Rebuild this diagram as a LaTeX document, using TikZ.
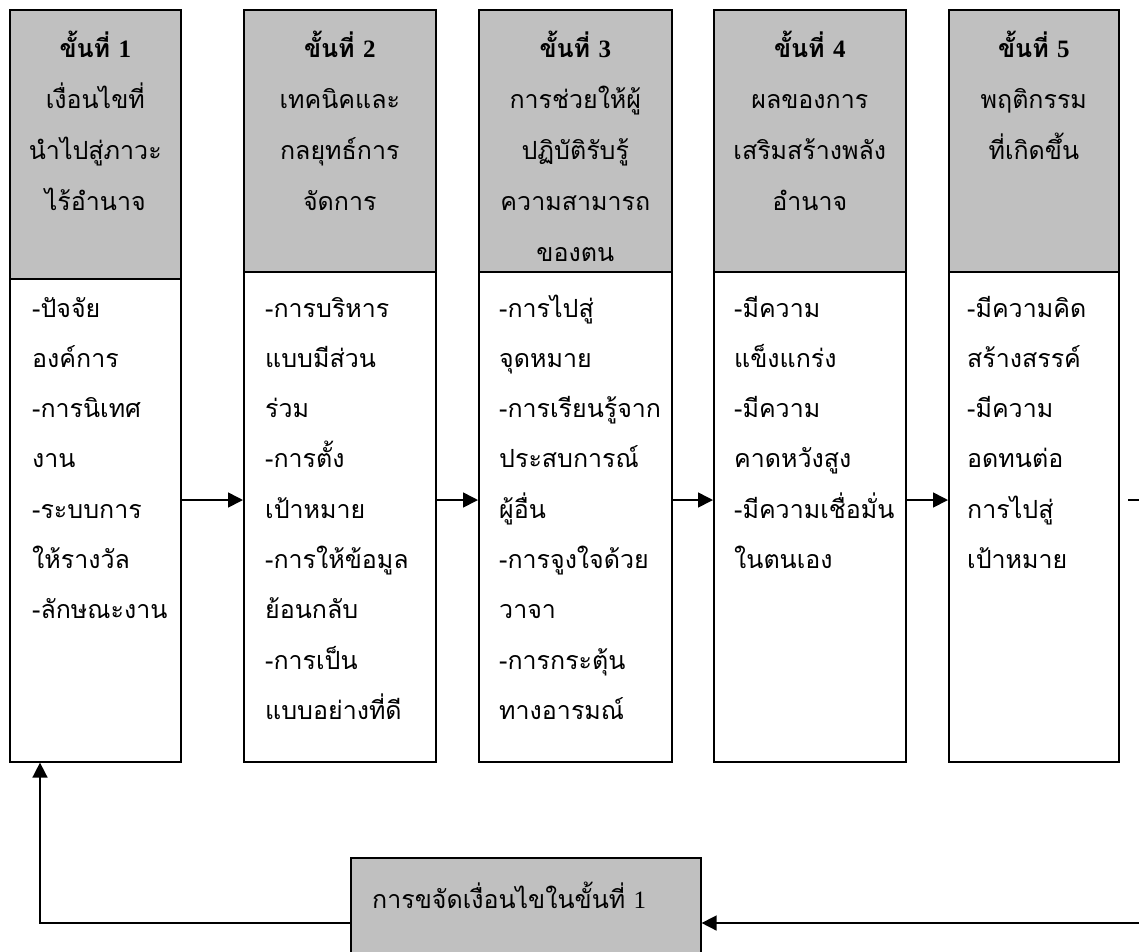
\documentclass[tikz,border=0pt]{standalone}
\usepackage{fontspec}
\setmainfont{Liberation Serif}
\newfontfamily\thai[Script=Thai]{Loma}
\usetikzlibrary{arrows.meta,calc}

\definecolor{hdrgray}{RGB}{192,192,192}
\tikzset{
  box/.style={draw=black, line width=1.6pt, inner sep=0pt, anchor=north west},
  hdr/.style={box, fill=hdrgray},
  body/.style={box, fill=white},
  txt/.style={inner sep=0pt, font=\thai\fontsize{25}{30}\selectfont},
  htext/.style={txt, anchor=base},
  btext/.style={txt, anchor=base west},
  link/.style={line width=1.6pt},
  flow/.style={link, -{Triangle[length=15pt,width=15pt]}},
}

\begin{document}
\begin{tikzpicture}[x=1pt,y=-1pt]
\useasboundingbox (0,0) rectangle (1139,951);

% step boxes: grey heading above, white list below
\node[hdr,  minimum width=171pt, minimum height=269pt] (h1) at (9,9) {};
\node[body, minimum width=171pt, minimum height=483pt] (b1) at (9,278) {};
\node[hdr,  minimum width=192pt, minimum height=262pt] (h2) at (243,9) {};
\node[body, minimum width=192pt, minimum height=490pt] (b2) at (243,271) {};
\node[hdr,  minimum width=193pt, minimum height=262pt] (h3) at (478,9) {};
\node[body, minimum width=193pt, minimum height=490pt] (b3) at (478,271) {};
\node[hdr,  minimum width=192pt, minimum height=262pt] (h4) at (713,9) {};
\node[body, minimum width=192pt, minimum height=490pt] (b4) at (713,271) {};
\node[hdr,  minimum width=170pt, minimum height=262pt] (h5) at (948,9) {};
\node[body, minimum width=170pt, minimum height=490pt] (b5) at (948,271) {};

% headings
\foreach \t [count=\i] in {\textbf{ขั้นที่ {\rmfamily 1}},เงื่อนไขที่,นำไปสู่ภาวะ,ไร้อำนาจ}
  \node[htext] (h1t\i) at ($(h1.north)+(0,{48+51*(\i-1)})$) {\t};
\foreach \t [count=\i] in {\textbf{ขั้นที่ {\rmfamily 2}},เทคนิคและ,กลยุทธ์การ,จัดการ}
  \node[htext] (h2t\i) at ($(h2.north)+(0,{48+51*(\i-1)})$) {\t};
\foreach \t [count=\i] in {\textbf{ขั้นที่ {\rmfamily 3}},การช่วยให้ผู้,ปฏิบัติรับรู้,ความสามารถ,ของตน}
  \node[htext] (h3t\i) at ($(h3.north)+(0,{48+51*(\i-1)})$) {\t};
\foreach \t [count=\i] in {\textbf{ขั้นที่ {\rmfamily 4}},ผลของการ,เสริมสร้างพลัง,อำนาจ}
  \node[htext] (h4t\i) at ($(h4.north)+(0,{48+51*(\i-1)})$) {\t};
\foreach \t [count=\i] in {\textbf{ขั้นที่ {\rmfamily 5}},พฤติกรรม,ที่เกิดขึ้น}
  \node[htext] (h5t\i) at ($(h5.north)+(0,{48+51*(\i-1)})$) {\t};

% lists
\foreach \t [count=\i] in {-ปัจจัย,องค์การ,-การนิเทศ,งาน,-ระบบการ,ให้รางวัล,-ลักษณะงาน}
  \node[btext] (b1t\i) at ($(b1.north west)+(23,{39+50.3*(\i-1)})$) {\t};
\foreach \t [count=\i] in {-การบริหาร,แบบมีส่วน,ร่วม,-การตั้ง,เป้าหมาย,-การให้ข้อมูล,ย้อนกลับ,-การเป็น,แบบอย่างที่ดี}
  \node[btext] (b2t\i) at ($(b2.north west)+(22,{46+50.3*(\i-1)})$) {\t};
\foreach \t [count=\i] in {-การไปสู่,จุดหมาย,-การเรียนรู้จาก,ประสบการณ์,ผู้อื่น,-การจูงใจด้วย,วาจา,-การกระตุ้น,ทางอารมณ์}
  \node[btext] (b3t\i) at ($(b3.north west)+(21,{46+50.3*(\i-1)})$) {\t};
\foreach \t [count=\i] in {-มีความ,แข็งแกร่ง,-มีความ,คาดหวังสูง,-มีความเชื่อมั่น,ในตนเอง}
  \node[btext] (b4t\i) at ($(b4.north west)+(21,{46+50.3*(\i-1)})$) {\t};
\foreach \t [count=\i] in {-มีความคิด,สร้างสรรค์,-มีความ,อดทนต่อ,การไปสู่,เป้าหมาย}
  \node[btext] (b5t\i) at ($(b5.north west)+(19,{46+50.3*(\i-1)})$) {\t};

% feedback box
\node[hdr, minimum width=350pt, minimum height=110pt] (fix) at (350,857) {};
\node[txt, anchor=base west] (fixt) at ($(fix.north west)+(22,51)$) {การขจัดเงื่อนไขในขั้นที่ {\rmfamily 1}};

% connector rows
\coordinate (row) at (0,500);
\coordinate (loop) at (0,923);
\coordinate (upx) at (40,0);
\coordinate (outa) at (1128,500);
\coordinate (outb) at (1139,500);
\coordinate (inr) at (1139,923);

\draw[flow] (b1.east |- row) -- (b2.west |- row);
\draw[flow] (b2.east |- row) -- (b3.west |- row);
\draw[flow] (b3.east |- row) -- (b4.west |- row);
\draw[flow] (b4.east |- row) -- (b5.west |- row);
\draw[link] (outa) -- (outb);
\draw[flow] (inr) -- (fix.east |- loop);
\draw[flow] (fix.west |- loop) -| (upx |- b1.south);
\end{tikzpicture}
\end{document}
